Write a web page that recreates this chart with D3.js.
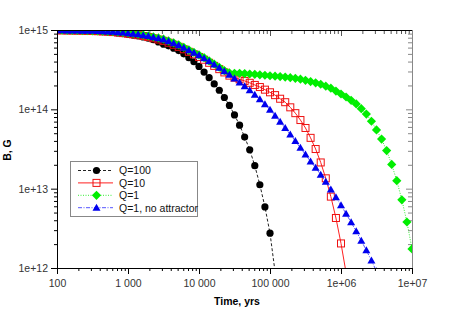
<!DOCTYPE html>
<html>
<head>
<meta charset="utf-8">
<script src="https://cdn.jsdelivr.net/npm/d3@7"></script>
<style>
  body { margin: 0; background: #fff; }
  svg { display: block; font-family: "Liberation Sans", Arial, sans-serif; }
</style>
</head>
<body>
<div id="chart"></div>
<script>
// time grid of the simulation output, yrs
var times = [
  100, 118, 139, 164, 193, 228, 268, 316, 373, 439, 518, 611, 720, 848,
  1000, 1179, 1389, 1638, 1931, 2276, 2683, 3162, 3728, 4394, 5179, 6105, 7197, 8483,
  1e4, 1.179e4, 1.389e4, 1.638e4, 1.931e4, 2.276e4, 2.683e4, 3.162e4, 3.728e4, 4.394e4, 5.179e4, 6.105e4, 7.197e4, 8.483e4,
  1e5, 1.179e5, 1.389e5, 1.638e5, 1.931e5, 2.276e5, 2.683e5, 3.162e5, 3.728e5, 4.394e5, 5.179e5, 6.105e5, 7.197e5, 8.483e5,
  1e6, 1.179e6, 1.389e6, 1.638e6, 1.931e6, 2.276e6, 2.683e6, 3.162e6, 3.728e6, 4.394e6, 5.179e6, 6.105e6, 7.197e6, 8.483e6,
  1e7, 1.179e7
];

// B, G for each run (index matches times)
var q100 = [
  9.89e14, 9.86e14, 9.84e14, 9.82e14, 9.77e14, 9.75e14, 9.71e14, 9.64e14, 9.57e14, 9.51e14, 9.42e14, 9.31e14, 9.16e14, 9.00e14,
  8.81e14, 8.63e14, 8.41e14, 8.17e14, 7.89e14, 7.53e14, 7.08e14, 6.61e14, 6.31e14, 5.89e14, 5.50e14, 5.01e14, 4.47e14, 3.98e14,
  3.47e14, 2.95e14, 2.51e14, 2.09e14, 1.74e14, 1.41e14, 1.12e14, 8.51e13, 6.31e13, 4.47e13, 3.09e13, 1.95e13, 1.12e13, 5.89e12,
  2.75e12, 8.91e11
];
var q10 = [
  9.91e14, 9.89e14, 9.86e14, 9.84e14, 9.82e14, 9.80e14, 9.75e14, 9.71e14, 9.66e14, 9.59e14, 9.53e14, 9.42e14, 9.29e14, 9.14e14,
  8.97e14, 8.81e14, 8.61e14, 8.40e14, 8.15e14, 7.87e14, 7.59e14, 7.30e14, 6.92e14, 6.52e14, 6.14e14, 5.72e14, 5.31e14, 4.93e14,
  4.57e14, 4.22e14, 3.86e14, 3.53e14, 3.21e14, 2.92e14, 2.66e14, 2.51e14, 2.39e14, 2.28e14, 2.16e14, 2.03e14, 1.91e14, 1.77e14,
  1.64e14, 1.51e14, 1.36e14, 1.23e14, 1.06e14, 8.95e13, 7.33e13, 5.82e13, 4.37e13, 3.16e13, 2.14e13, 1.35e13, 7.94e12, 4.27e12,
  2.04e12, 8.71e11
];
var q1 = [
  9.95e14, 9.93e14, 9.91e14, 9.89e14, 9.86e14, 9.84e14, 9.82e14, 9.77e14, 9.73e14, 9.68e14, 9.62e14, 9.55e14, 9.44e14, 9.33e14,
  9.18e14, 9.04e14, 8.87e14, 8.67e14, 8.45e14, 8.20e14, 7.94e14, 7.67e14, 7.28e14, 6.89e14, 6.50e14, 6.05e14, 5.62e14, 5.22e14,
  4.85e14, 4.48e14, 4.09e14, 3.73e14, 3.39e14, 3.08e14, 2.88e14, 2.85e14, 2.84e14, 2.82e14, 2.79e14, 2.76e14, 2.72e14, 2.69e14,
  2.65e14, 2.62e14, 2.59e14, 2.55e14, 2.51e14, 2.46e14, 2.40e14, 2.32e14, 2.24e14, 2.16e14, 2.07e14, 1.96e14, 1.85e14, 1.70e14,
  1.56e14, 1.43e14, 1.30e14, 1.17e14, 1.02e14, 8.71e13, 7.08e13, 5.50e13, 4.22e13, 3.02e13, 2.02e13, 1.26e13, 7.24e12, 3.80e12,
  1.74e12, 7.08e11
];
var q1NoAttr = [
  9.93e14, 9.91e14, 9.89e14, 9.86e14, 9.84e14, 9.82e14, 9.80e14, 9.75e14, 9.71e14, 9.66e14, 9.59e14, 9.51e14, 9.40e14, 9.27e14,
  9.12e14, 8.97e14, 8.81e14, 8.61e14, 8.38e14, 8.13e14, 7.85e14, 7.59e14, 7.19e14, 6.79e14, 6.41e14, 5.97e14, 5.55e14, 5.15e14,
  4.79e14, 4.42e14, 4.04e14, 3.68e14, 3.34e14, 3.02e14, 2.72e14, 2.44e14, 2.18e14, 1.95e14, 1.74e14, 1.53e14, 1.34e14, 1.16e14,
  9.89e13, 8.32e13, 6.97e13, 5.81e13, 4.82e13, 3.98e13, 3.27e13, 2.69e13, 2.20e13, 1.84e13, 1.50e13, 1.22e13, 9.77e12, 7.80e12,
  6.17e12, 4.84e12, 3.76e12, 2.90e12, 2.21e12, 1.67e12, 1.24e12, 9.12e11
];

var seriesNames = ['Q=100', 'Q=10', 'Q=1', 'Q=1, no attractor'];

var xMajor = [100, 1000, 1e4, 1e5, 1e6, 1e7];
var xLabels = ['100', '1 000', '10 000', '100 000', '1e+06', '1e+07'];
var yMajor = [1e12, 1e13, 1e14, 1e15];
var yLabels = ['1e+12', '1e+13', '1e+14', '1e+15'];

var width = 458, height = 313;
var plotL = 57, plotR = 412, plotT = 30, plotB = 268;

var svg = d3.select('#chart').append('svg')
    .attr('width', width)
    .attr('height', height);

var x = d3.scaleLog().domain([100, 1e7]).range([plotL, plotR]);
var y = d3.scaleLog().domain([1e12, 1e15]).range([plotB, plotT]);

svg.append('defs').append('clipPath')
    .attr('id', 'plotclip')
  .append('rect')
    .attr('x', plotL).attr('y', plotT)
    .attr('width', plotR - plotL).attr('height', plotB - plotT);

////////////////
// Axes       //
////////////////

// minor ticks from the scale itself, minus the decades
var xMinor = x.ticks().filter(function(t){ return xMajor.indexOf(t) < 0; });
var yMinor = y.ticks().filter(function(t){ return yMajor.indexOf(t) < 0; });

var drawAxis = function(axisFn, scale, pos, major, labels, minor, opts){
  var g = svg.append('g').attr('transform', pos);
  var minorAxis = axisFn(scale).tickValues(minor).tickSize(opts.minor).tickFormat('');
  var majorAxis = axisFn(scale).tickValues(major).tickSize(opts.major)
    .tickFormat(function(d, i){ return labels ? labels[i] : ''; })
    .tickPadding(opts.pad || 3);
  g.append('g').call(minorAxis);
  g.append('g').call(majorAxis);
  g.selectAll('.domain').remove();
  g.selectAll('line').attr('stroke', opts.color);
  g.selectAll('text')
    .attr('fill', '#333')
    .style('font-size', '10.5px');
  return g;
};

drawAxis(d3.axisBottom, x, 'translate(0,' + plotB + ')', xMajor, xLabels, xMinor, {minor: 3, major: 6, color: '#000', pad: 6});
drawAxis(d3.axisLeft, y, 'translate(' + plotL + ',0)', yMajor, yLabels, yMinor, {minor: 3, major: 6, color: '#000', pad: 3});
drawAxis(d3.axisBottom, x, 'translate(0,' + plotT + ')', xMajor, null, xMinor, {minor: 4, major: 6, color: '#555'});
drawAxis(d3.axisLeft, y, 'translate(' + plotR + ',0)', yMajor, null, yMinor, {minor: 4, major: 6, color: '#888'});

////////////////
// Series     //
////////////////

var circle = function(g){ g.append('circle').attr('r', 3.6).attr('fill', '#000'); };
var square = function(g){
  g.append('rect').attr('x', -3.5).attr('y', -3.5).attr('width', 7).attr('height', 7)
    .attr('fill', 'none').attr('stroke', '#ee1111').attr('stroke-width', 1);
};
var diamond = function(g){ g.append('path').attr('d', 'M0,-4.6L4.6,0L0,4.6L-4.6,0Z').attr('fill', '#00ee00'); };
var triangle = function(g){ g.append('path').attr('d', 'M0,-4L4,3L-4,3Z').attr('fill', '#0000ee'); };

var series = [
  {name: seriesNames[0], values: q100, line: '#222', dash: '3,2', marker: circle},
  {name: seriesNames[1], values: q10, line: '#ff2020', dash: null, marker: square},
  {name: seriesNames[2], values: q1, line: '#33ee33', dash: '1,1.5', marker: diamond},
  {name: seriesNames[3], values: q1NoAttr, line: '#5555ff', dash: '4,1.5,1,1.5', marker: triangle}
];

var line = d3.line()
  .x(function(d){ return x(d.t); })
  .y(function(d){ return y(d.b); });

var plot = svg.append('g').attr('clip-path', 'url(#plotclip)');

series.forEach(function(s){
  var pts = s.values.map(function(b, i){ return {t: times[i], b: b}; });
  plot.append('path')
      .datum(pts)
      .attr('d', line)
      .attr('fill', 'none')
      .attr('stroke', s.line)
      .attr('stroke-width', 1)
      .attr('stroke-dasharray', s.dash);
  plot.append('g').selectAll('g')
      .data(pts)
    .enter().append('g')
      .attr('transform', function(d){ return 'translate(' + x(d.t) + ',' + y(d.b) + ')'; })
      .each(function(){ s.marker(d3.select(this)); });
});

// frame
svg.append('line').attr('x1', plotL).attr('x2', plotR).attr('y1', plotT + 0.5).attr('y2', plotT + 0.5).attr('stroke', '#000');
svg.append('line').attr('x1', plotR + 0.5).attr('x2', plotR + 0.5).attr('y1', plotT).attr('y2', plotB).attr('stroke', '#888');
svg.append('line').attr('x1', plotL).attr('x2', plotR + 1).attr('y1', plotB + 0.5).attr('y2', plotB + 0.5).attr('stroke', '#000');
svg.append('line').attr('x1', plotL + 0.5).attr('x2', plotL + 0.5).attr('y1', plotT).attr('y2', plotB + 1).attr('stroke', '#000');

svg.append('text')
    .attr('x', 237).attr('y', 305)
    .attr('text-anchor', 'middle')
    .style('font-size', '10.5px').style('font-weight', 'bold')
    .text('Time, yrs');

svg.append('text')
    .attr('transform', 'translate(11,150) rotate(-90)')
    .attr('text-anchor', 'middle')
    .style('font-size', '10.5px').style('font-weight', 'bold')
    .text('B, G');

////////////////
// Legend     //
////////////////

var legend = svg.append('g').attr('transform', 'translate(70,161)');
legend.append('rect')
    .attr('x', 0.5).attr('y', 0.5)
    .attr('width', 127).attr('height', 55)
    .attr('fill', '#fff')
    .attr('stroke', '#888');

series.forEach(function(s, i){
  var row = legend.append('g').attr('transform', 'translate(0,' + (9.5 + i * 12.4) + ')');
  row.append('line')
      .attr('x1', 8).attr('x2', 43)
      .attr('stroke', s.line)
      .attr('stroke-dasharray', s.dash);
  s.marker(row.append('g').attr('transform', 'translate(26.5,0)'));
  row.append('text')
      .attr('x', 49).attr('y', 3.8)
      .style('font-size', '10.5px')
      .attr('fill', '#111')
      .text(s.name);
});
</script>
</body>
</html>
